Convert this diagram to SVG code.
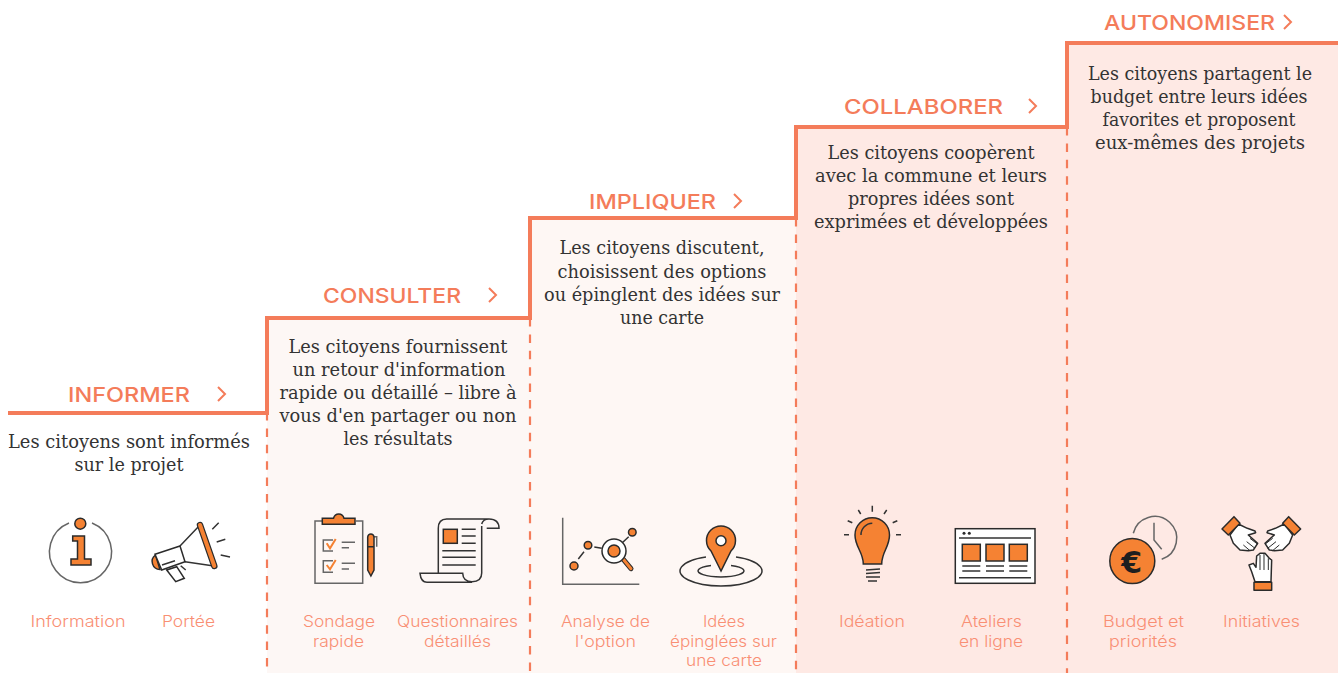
<svg xmlns="http://www.w3.org/2000/svg" width="1342" height="673" viewBox="0 0 1342 673">
<style>
.h{font-family:"Inter","Lato",sans-serif;font-size:20.5px;fill:#f47c5a;font-weight:500}
.b{font-family:"DejaVu Serif","Liberation Serif",serif;font-size:19px;fill:#333;text-anchor:middle}
.l{font-family:"Inter","Lato",sans-serif;font-size:15.5px;fill:#f98f74;text-anchor:middle;font-weight:300}
.chev{fill:none;stroke:#f47c5a;stroke-width:2}
.k{fill:none;stroke:#333;stroke-width:1.5}
.g{fill:none;stroke:#666;stroke-width:1.5}
.o{fill:#f58233;stroke:#2b2b2b;stroke-width:1.5}
.w{fill:#fff;stroke:#2b2b2b;stroke-width:1.5}
.oc{fill:none;stroke:#f58233;stroke-width:2}
.dash{fill:none;stroke:#f47c5a;stroke-width:2.2;stroke-dasharray:8.5 7.9}
</style>
<rect width="1342" height="673" fill="#fff"/>
<g id="backgrounds">
<rect x="267" y="318" width="263" height="355" fill="#fdf7f5"/>
<rect x="530" y="218" width="266" height="455" fill="#fef7f4"/>
<rect x="796" y="127" width="271" height="546" fill="#fee9e4"/>
<rect x="1067" y="43" width="271" height="630" fill="#fee9e4"/>
</g>
<g id="connectors">
<path d="M8 413H267V318H530V218H796V127H1067V43H1338" fill="none" stroke="#f47c5a" stroke-width="4"/>
<path class="dash" d="M267 412V673"/>
<path class="dash" d="M530 318V673"/>
<path class="dash" d="M796 218V673"/>
<path class="dash" d="M1067 127V673"/>
</g>
<g id="informer">
<text class="h" x="68" y="402" textLength="122" lengthAdjust="spacingAndGlyphs">INFORMER</text>
<path class="chev" d="M218 387l7 7-7 7"/>
<text class="b" x="129" y="448" textLength="242" lengthAdjust="spacingAndGlyphs">Les citoyens sont informés</text>
<text class="b" x="129" y="471" textLength="109" lengthAdjust="spacingAndGlyphs">sur le projet</text>
</g>
<g id="consulter">
<text class="h" x="323" y="303" textLength="138" lengthAdjust="spacingAndGlyphs">CONSULTER</text>
<path class="chev" d="M489 288l7 7-7 7"/>
<text class="b" x="398" y="353" textLength="219" lengthAdjust="spacingAndGlyphs">Les citoyens fournissent</text>
<text class="b" x="399" y="376" textLength="213" lengthAdjust="spacingAndGlyphs">un retour d'information</text>
<text class="b" x="398" y="399" textLength="237" lengthAdjust="spacingAndGlyphs">rapide ou détaillé – libre à</text>
<text class="b" x="398" y="422" textLength="237" lengthAdjust="spacingAndGlyphs">vous d'en partager ou non</text>
<text class="b" x="398" y="445" textLength="109" lengthAdjust="spacingAndGlyphs">les résultats</text>
</g>
<g id="impliquer">
<text class="h" x="589" y="209" textLength="127" lengthAdjust="spacingAndGlyphs">IMPLIQUER</text>
<path class="chev" d="M734 194l7 7-7 7"/>
<text class="b" x="662" y="254" textLength="205" lengthAdjust="spacingAndGlyphs">Les citoyens discutent,</text>
<text class="b" x="662" y="278" textLength="209" lengthAdjust="spacingAndGlyphs">choisissent des options</text>
<text class="b" x="662" y="301" textLength="236" lengthAdjust="spacingAndGlyphs">ou épinglent des idées sur</text>
<text class="b" x="662" y="324" textLength="84" lengthAdjust="spacingAndGlyphs">une carte</text>
</g>
<g id="collaborer">
<text class="h" x="844" y="114" textLength="159" lengthAdjust="spacingAndGlyphs">COLLABORER</text>
<path class="chev" d="M1029 99l7 7-7 7"/>
<text class="b" x="931" y="159" textLength="207" lengthAdjust="spacingAndGlyphs">Les citoyens coopèrent</text>
<text class="b" x="931" y="182" textLength="232" lengthAdjust="spacingAndGlyphs">avec la commune et leurs</text>
<text class="b" x="931" y="205" textLength="166" lengthAdjust="spacingAndGlyphs">propres idées sont</text>
<text class="b" x="931" y="228" textLength="234" lengthAdjust="spacingAndGlyphs">exprimées et développées</text>
</g>
<g id="autonomiser">
<text class="h" x="1104" y="30" textLength="171" lengthAdjust="spacingAndGlyphs">AUTONOMISER</text>
<path class="chev" d="M1284 15l7 7-7 7"/>
<text class="b" x="1200" y="80" textLength="224" lengthAdjust="spacingAndGlyphs">Les citoyens partagent le</text>
<text class="b" x="1199" y="103" textLength="217" lengthAdjust="spacingAndGlyphs">budget entre leurs idées</text>
<text class="b" x="1199" y="126" textLength="193" lengthAdjust="spacingAndGlyphs">favorites et proposent</text>
<text class="b" x="1200" y="149" textLength="210" lengthAdjust="spacingAndGlyphs">eux-mêmes des projets</text>
</g>
<g id="information">
<path class="g" d="M69 523A31 31 0 1 0 92 523"/>
<circle class="o" cx="80.3" cy="523.7" r="5.5"/>
<path class="o" d="M72.7 536H84.5V559H91V565H71V559H77.5V541H72.7Z"/>
<text class="l" x="78" y="627" textLength="95" lengthAdjust="spacingAndGlyphs">Information</text>
</g>
<g id="portee">
<path class="o" d="M155.5 555A8 8 0 0 0 160 569.5Z"/>
<path class="k" d="M180.7 565.7L185.7 570"/>
<path class="w" d="M166.7 570L175.7 581.7L184.3 578.3L176.7 566.7Z"/>
<path class="k" stroke-width="2" d="M180 546L200 525M185 561.7L214 566"/>
<path class="w" d="M155 554.3L180 546L185 561.7L161.7 570Z"/>
<path class="k" d="M162 565L175 560.7M212.3 529.3L218.7 522.7M216.7 542L225.3 539.3M220.7 555L230 557"/>
<path d="M200 525L214.3 566" stroke="#2b2b2b" stroke-width="6.5" stroke-linecap="round"/>
<path d="M200 525L214.3 566" stroke="#f58233" stroke-width="4" stroke-linecap="round"/>
<text class="l" x="188.5" y="627" textLength="53" lengthAdjust="spacingAndGlyphs">Portée</text>
</g>
<g id="sondage">
<path class="g" d="M322 521H315V583.3H362.7V521H356"/>
<path class="o" d="M322.3 518.3H333.5A5.5 6 0 0 1 344 518.3H355V524.3H322.3Z"/>
<path class="g" d="M333 540H323.3V551H333M333 560.7H323.3V572.3H333"/>
<path class="oc" d="M326.7 543.3L330 548.3L335.7 539M326.7 565L330 569.3L335.7 560"/>
<path class="g" d="M341.7 542.3H355M341.7 547.7H349M341.7 563.3H355M341.7 569H349"/>
<path class="g" d="M374 536.7H376.7V546.7"/>
<path class="o" d="M367.7 537A3.2 3.5 0 0 1 374 537V570L370.9 576L367.7 570ZM367.7 546.7H374"/>
<text class="l" x="339" y="627" textLength="72" lengthAdjust="spacingAndGlyphs">Sondage</text>
<text class="l" x="338.5" y="647" textLength="51" lengthAdjust="spacingAndGlyphs">rapide</text>
</g>
<g id="questionnaires">
<path class="k" d="M438.3 573.3V528.3Q438.3 519 446.7 519H489Q499 519 499 528.3H486.7M481.7 524Q483 519 489 519M481.7 526V573Q481.7 581.7 472 581.7Q463 581.7 462.7 573.3H420Q421 582.3 427 582.3H472"/>
<rect class="o" x="443.3" y="529.3" width="14" height="14"/>
<path class="k" d="M461.7 529.3H475.7M461.7 536H475.7M461.7 543.3H475.7M442.3 550.7H475.7M442.3 557.3H475.7M442.3 565H475.7"/>
<text class="l" x="457.5" y="627" textLength="121" lengthAdjust="spacingAndGlyphs">Questionnaires</text>
<text class="l" x="457.5" y="647" textLength="67" lengthAdjust="spacingAndGlyphs">détaillés</text>
</g>
<g id="analyse">
<path class="g" d="M562.7 517.7V584.3H639.3"/>
<path class="k" d="M578.3 559L584 551.7M594.3 547L601.7 548.3M621.7 543.3L628.7 536.7"/>
<circle class="o" cx="574" cy="566" r="4"/>
<circle class="o" cx="588" cy="545.3" r="3.8"/>
<circle class="o" cx="632.3" cy="532.3" r="3.8"/>
<path d="M623.3 559.3L631 568.7" stroke="#2b2b2b" stroke-width="5" stroke-linecap="round"/>
<path d="M623.3 559.3L631 568.7" stroke="#f58233" stroke-width="3" stroke-linecap="round"/>
<circle class="w" cx="614" cy="551" r="12"/>
<circle class="o" cx="614" cy="551" r="6"/>
<text class="l" x="605.5" y="627" textLength="89" lengthAdjust="spacingAndGlyphs">Analyse de</text>
<text class="l" x="605.5" y="647" textLength="61" lengthAdjust="spacingAndGlyphs">l'option</text>
</g>
<g id="idees">
<path class="k" d="M706 557A41 15 0 1 0 736 557"/>
<path class="k" d="M711 565.5A23 6 0 1 0 731 565.5"/>
<path class="o" d="M721 571L711 551A14.5 14.5 0 1 1 731 551Z"/>
<circle class="w" cx="721" cy="540.7" r="5"/>
<text class="l" x="724" y="627" textLength="42" lengthAdjust="spacingAndGlyphs">Idées</text>
<text class="l" x="723.5" y="647" textLength="107" lengthAdjust="spacingAndGlyphs">épinglées sur</text>
<text class="l" x="724" y="666" textLength="76" lengthAdjust="spacingAndGlyphs">une carte</text>
</g>
<g id="ideation">
<path class="o" d="M863.3 564C863.3 552 855 547 855 535A17 17 0 0 1 889.5 535C889.5 547 881.7 552 881.7 564Z"/>
<path class="k" d="M861 535A11.5 11.5 0 0 1 872.3 523.3M866 570L880 569M866 573.5L880 572.5M866 577H880M868 581H877"/>
<path class="k" d="M872.3 505.7V511.7M858.3 510L860.7 514M886.7 510L884 514M847.7 520.7L852.3 522.7M897.3 520.7L892.7 522.7M844 534.7H849M896 534.7H901"/>
<text class="l" x="872" y="627" textLength="66" lengthAdjust="spacingAndGlyphs">Idéation</text>
</g>
<g id="ateliers">
<rect class="w" x="955.3" y="528.7" width="79.7" height="54.6"/>
<path class="k" d="M959 538H1031M962.3 566H980.3M986 566H1004M1009.3 566H1027.3M962.3 571H980.3M986 571H1004M1009.3 571H1027.3M959 577.7H1031"/>
<circle cx="964" cy="533.3" r="1.5" fill="#2b2b2b"/>
<circle cx="969.3" cy="533.3" r="1.5" fill="#2b2b2b"/>
<rect class="o" x="962.3" y="544.3" width="18" height="16.7"/>
<rect class="o" x="986" y="544.3" width="18" height="16.7"/>
<rect class="o" x="1009.3" y="544.3" width="18" height="16.7"/>
<text class="l" x="991.5" y="627" textLength="61" lengthAdjust="spacingAndGlyphs">Ateliers</text>
<text class="l" x="991" y="647" textLength="64" lengthAdjust="spacingAndGlyphs">en ligne</text>
</g>
<g id="budget">
<path class="g" d="M1133.3 533.3A22 22 0 1 1 1161.7 559.3M1154 522.7V540L1161.7 549.3"/>
<circle class="o" cx="1132.3" cy="561" r="22.5"/>
<text x="1131.7" y="572.5" font-family="DejaVu Sans,sans-serif" font-weight="700" font-size="30" fill="#1f1f1f" text-anchor="middle">€</text>
<text class="l" x="1143.5" y="627" textLength="81" lengthAdjust="spacingAndGlyphs">Budget et</text>
<text class="l" x="1143" y="647" textLength="68" lengthAdjust="spacingAndGlyphs">priorités</text>
</g>
<g id="initiatives">
<defs>
<g id="hand" stroke="#2b2b2b" stroke-width="4.5" stroke-linejoin="round">
<path fill="#fff" d="M85 42L112 55L135 63L137 68L115 75L143 100L130 120L115 122L90 120L70 100L60 75Z"/>
<path fill="none" stroke-width="3" d="M100 105L120 122M110 95L135 115M120 85L142 102"/>
<path fill="#f58233" d="M36 57L72 20L90 40L55 75Z"/>
</g>
</defs>
<g transform="translate(1210 510) scale(.3333)">
<use href="#hand"/>
<use href="#hand" transform="matrix(-1 0 0 1 308 0)"/>
<g stroke="#2b2b2b" stroke-width="4.5" stroke-linejoin="round">
<path fill="#fff" d="M135 215L125 185L117 165L130 160L138 172L140 138L150 130L165 130L178 145L185 150L183 215Z"/>
<path fill="none" stroke-width="3" d="M150 135V180M162 132V180M175 145V180"/>
<rect x="132" y="217" width="53" height="24" fill="#f58233"/>
</g>
</g>
<text class="l" x="1261.5" y="627" textLength="77" lengthAdjust="spacingAndGlyphs">Initiatives</text>
</g>
</svg>
